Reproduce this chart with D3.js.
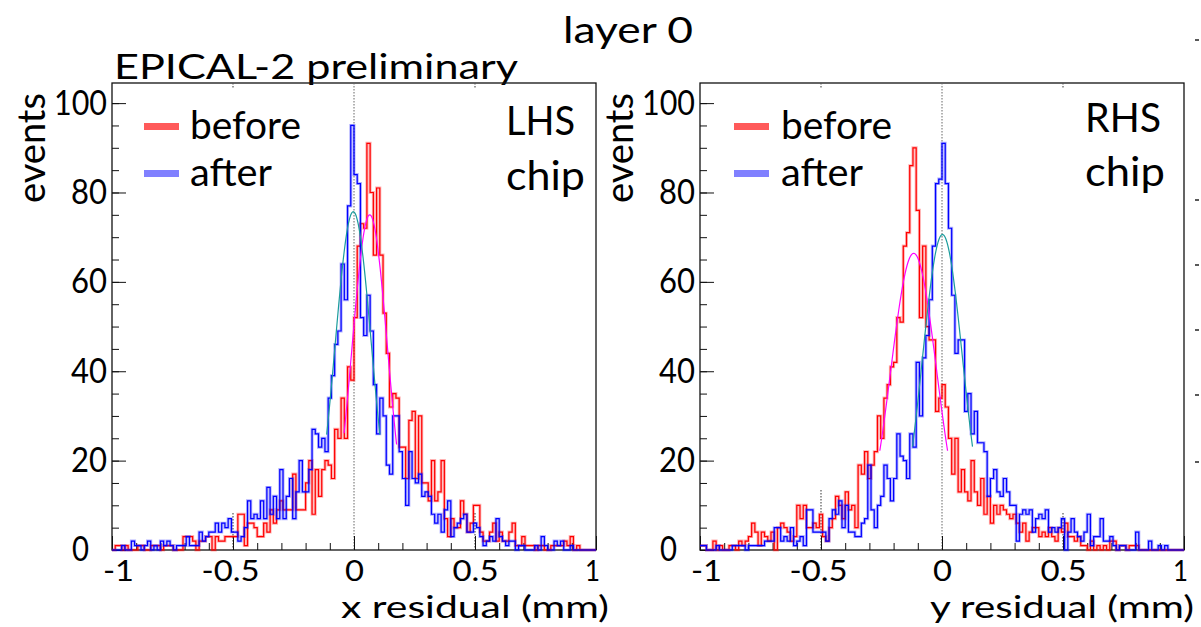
<!DOCTYPE html>
<html>
<head>
<meta charset="utf-8">
<script src="https://cdn.jsdelivr.net/npm/d3@7"></script>
<style>
  body { margin: 0; background: #fff; }
  svg text { font-family: Lato, "Open Sans", sans-serif; fill: #000; }
</style>
</head>
<body>
<svg id="chart" width="1201" height="627"></svg>
<script>
'use strict';

// residual histograms, 150 bins between -1 and 1 mm
const lhsBefore = [
  0, 1, 1, 0, 1, 0, 0, 0, 1, 1,
  0, 0, 1, 1, 1, 0, 1, 1, 1, 0,
  0, 0, 3, 3, 3, 2, 0, 2, 2, 3,
  3, 0, 3, 2, 2, 3, 3, 3, 3, 8,
  8, 1, 6, 6, 5, 3, 3, 6, 4, 9,
  6, 9, 11, 9, 9, 9, 17, 9, 9, 9,
  15, 20, 8, 18, 12, 18, 20, 19, 16, 27,
  25, 34, 25, 41, 38, 52, 68, 73, 72, 91,
  80, 66, 81, 66, 53, 44, 32, 35, 34, 23,
  23, 16, 29, 31, 16, 30, 15, 15, 11, 20,
  11, 13, 20, 7, 3, 7, 5, 5, 11, 8,
  4, 6, 10, 10, 4, 2, 2, 4, 6, 2,
  4, 2, 2, 4, 6, 1, 1, 3, 1, 1,
  1, 0, 1, 1, 0, 0, 1, 1, 1, 1,
  2, 1, 3, 0, 1, 0, 0, 0, 0, 0
];
const lhsAfter = [
  0, 0, 0, 1, 0, 0, 2, 1, 1, 0,
  1, 2, 0, 1, 0, 2, 1, 2, 1, 0,
  1, 1, 1, 3, 1, 1, 1, 4, 2, 3,
  4, 4, 6, 4, 6, 5, 7, 4, 4, 2,
  3, 5, 11, 7, 8, 7, 11, 7, 14, 8,
  12, 7, 18, 7, 12, 16, 7, 13, 20, 13,
  13, 18, 27, 26, 23, 25, 22, 34, 39, 46,
  49, 64, 56, 77, 95, 84, 82, 52, 48, 57,
  49, 37, 26, 34, 30, 19, 17, 30, 30, 22,
  16, 10, 22, 16, 15, 17, 12, 13, 12, 8,
  6, 8, 4, 9, 11, 3, 5, 6, 7, 8,
  4, 4, 6, 5, 3, 1, 2, 3, 2, 7,
  3, 2, 1, 2, 2, 0, 1, 1, 0, 0,
  0, 1, 0, 3, 1, 0, 0, 2, 1, 2,
  0, 0, 1, 0, 0, 0, 0, 0, 0, 0
];
const rhsBefore = [
  1, 1, 0, 0, 2, 0, 1, 0, 0, 1,
  1, 0, 2, 1, 2, 3, 6, 4, 1, 4,
  3, 2, 4, 0, 5, 6, 5, 4, 2, 3,
  10, 7, 10, 5, 5, 6, 5, 8, 3, 2,
  5, 7, 12, 10, 7, 13, 9, 10, 5, 19,
  17, 22, 16, 19, 22, 30, 25, 34, 37, 41,
  42, 52, 51, 68, 71, 86, 90, 76, 52, 68,
  50, 47, 47, 31, 34, 37, 32, 25, 17, 25,
  13, 18, 13, 11, 20, 13, 10, 16, 8, 12,
  6, 10, 8, 10, 9, 8, 7, 8, 6, 4,
  6, 2, 4, 5, 5, 3, 4, 3, 5, 3,
  2, 5, 4, 6, 3, 3, 2, 3, 1, 1,
  0, 2, 0, 1, 0, 1, 0, 2, 2, 0,
  1, 1, 0, 1, 1, 1, 0, 0, 0, 0,
  0, 0, 0, 0, 0, 0, 0, 0, 0, 0
];
const rhsAfter = [
  1, 1, 0, 0, 0, 1, 0, 0, 0, 0,
  1, 1, 1, 1, 0, 1, 1, 1, 1, 1,
  2, 2, 2, 5, 5, 2, 3, 2, 5, 1,
  2, 3, 1, 9, 9, 4, 4, 4, 4, 2,
  7, 9, 8, 11, 5, 10, 4, 4, 3, 3,
  6, 7, 19, 9, 5, 10, 12, 19, 16, 11,
  16, 26, 21, 20, 16, 26, 23, 42, 30, 43,
  48, 56, 68, 82, 83, 91, 82, 72, 57, 44,
  47, 47, 31, 35, 26, 31, 24, 24, 22, 12,
  16, 18, 13, 12, 16, 13, 10, 10, 2, 8,
  9, 8, 9, 4, 7, 8, 7, 9, 4, 5,
  4, 5, 7, 0, 4, 7, 4, 3, 2, 4,
  8, 1, 3, 3, 7, 2, 2, 3, 1, 0,
  1, 1, 0, 0, 0, 4, 0, 0, 0, 2,
  0, 0, 1, 0, 1, 0, 0, 0, 0, 0
];

// gaussian fits: [amplitude, mean, sigma, fit from, fit to]
const lhsFitBefore = [75, 0.065, 0.073, -0.041, 0.176];
const lhsFitAfter = [75.7, -0.003, 0.075, -0.113, 0.107];
const rhsFitBefore = [66.4, -0.117, 0.0946, -0.257, 0.023];
const rhsFitAfter = [70.6, 0.002, 0.083, -0.122, 0.126];

const xMajorTicks = [-1, -0.5, 0, 0.5, 1];
const xMinorTicks = d3.range(-10, 11).map(function (k) { return k / 10; });
const yMajorTicks = [0, 20, 40, 60, 80, 100];
const yMinorTicks = d3.range(0, 101, 5);
const legendLabels = ["before", "after"];
const edgeMarks = [40, 200, 265, 330, 395, 462];

const PANEL_W = 484;
const TOP = 83;
const BOTTOM = 550;
const Y_MAX = 104.5;
const RED = "#ff0000";
const BLUE = "#0000ff";
const FONT = "Lato, 'Open Sans', sans-serif";

// measured label widths, used to match the stretched lettering
const xLabelWidth = { "-1": 31, "-0.5": 58, "0": 19, "0.5": 46, "1": 15 };
const xLabelShift = { "-1": 6, "-0.5": -3, "0": 0, "0.5": 0, "1": -4 };
const yLabelWidth = { "0": 17, "20": 36, "40": 36, "60": 36, "80": 36, "100": 53 };
const yLabelShift = { "0": -18, "20": 0, "40": 0, "60": 0, "80": 0, "100": 0 };

const panels = [
  {
    left: 112, before: lhsBefore, after: lhsAfter,
    fitBefore: lhsFitBefore, fitAfter: lhsFitAfter,
    chip: ["LHS", "chip"], chipX: 506, chipY: [135, 190], chipW: [69, 79],
    title: "x residual (mm)", titleX: 341, titleW: 268,
    eventsX: 45, legendX: 144, legendTextX: 190, pm5: [37, 37]
  },
  {
    left: 700, before: rhsBefore, after: rhsAfter,
    fitBefore: rhsFitBefore, fitAfter: rhsFitAfter,
    chip: ["RHS", "chip"], chipX: 1085, chipY: [132, 186], chipW: [76, 80],
    title: "y residual (mm)", titleX: 930, titleW: 264,
    eventsX: 633, legendX: 734, legendTextX: 781, pm5: [60, 37]
  }
];

var svg = d3.select("#chart");

svg.append("text")
    .attr("x", 563)
    .attr("y", 43)
    .attr("font-size", 37)
    .attr("textLength", 130)
    .attr("lengthAdjust", "spacingAndGlyphs")
    .text("layer 0");

svg.append("text")
    .attr("x", 114)
    .attr("y", 79)
    .attr("font-size", 35)
    .attr("textLength", 404)
    .attr("lengthAdjust", "spacingAndGlyphs")
    .text("EPICAL-2 preliminary");

panels.forEach(drawPanel);

// bits of the next panel peeking in at the right edge
svg.selectAll(".edge-mark")
    .data(edgeMarks)
    .enter()
    .append("line")
    .attr("class", "edge-mark")
    .attr("x1", 1195).attr("x2", 1199)
    .attr("y1", function (d) { return d; })
    .attr("y2", function (d) { return d; })
    .attr("stroke", "#222")
    .attr("stroke-width", 1.5);

function drawPanel(p) {
    var x = d3.scaleLinear().domain([-1, 1]).range([p.left, p.left + PANEL_W]);
    var y = d3.scaleLinear().domain([0, Y_MAX]).range([BOTTOM, TOP]);
    var g = svg.append("g");

    // frame
    g.append("rect")
        .attr("x", x(-1)).attr("y", y(Y_MAX))
        .attr("width", x(1) - x(-1)).attr("height", y(0) - y(Y_MAX))
        .attr("fill", "none")
        .attr("stroke", "#111")
        .attr("stroke-width", 1.3);

    // dotted guides
    g.append("line")
        .attr("x1", x(0)).attr("x2", x(0))
        .attr("y1", y(Y_MAX)).attr("y2", y(0))
        .attr("stroke", "#666").attr("stroke-width", 1)
        .attr("stroke-dasharray", "1.5,1.5");
    [-0.5, 0.5].forEach(function (v, k) {
        g.append("line")
            .attr("x1", x(v)).attr("x2", x(v))
            .attr("y1", y(0) - p.pm5[k]).attr("y2", y(0))
            .attr("stroke", "#555").attr("stroke-width", 1.2)
            .attr("stroke-dasharray", "1.5,1.5");
        g.append("line")
            .attr("x1", x(v)).attr("x2", x(v))
            .attr("y1", y(Y_MAX)).attr("y2", y(Y_MAX) + 5)
            .attr("stroke", "#555").attr("stroke-width", 1.2)
            .attr("stroke-dasharray", "1.5,1.5");
    });

    // y axis, ticks pointing inwards
    var yMinor = g.append("g")
        .attr("transform", "translate(" + x(-1) + ",0)")
        .call(d3.axisLeft(y).tickValues(yMinorTicks).tickSize(-7).tickFormat(""));
    yMinor.select(".domain").remove();
    var yMajor = g.append("g")
        .attr("transform", "translate(" + x(-1) + ",0)")
        .call(d3.axisLeft(y).tickValues(yMajorTicks).tickSize(-14).tickPadding(5));
    yMajor.select(".domain").remove();
    yMajor.selectAll("text")
        .attr("font-size", 34)
        .attr("font-family", FONT)
        .attr("dx", function (d) { return yLabelShift[String(d)]; })
        .attr("textLength", function (d) { return yLabelWidth[String(d)]; })
        .attr("lengthAdjust", "spacingAndGlyphs");

    // x axis
    var xMinor = g.append("g")
        .attr("transform", "translate(0," + y(0) + ")")
        .call(d3.axisBottom(x).tickValues(xMinorTicks).tickSize(-7).tickFormat(""));
    xMinor.select(".domain").remove();
    var xMajor = g.append("g")
        .attr("transform", "translate(0," + y(0) + ")")
        .call(d3.axisBottom(x).tickValues(xMajorTicks).tickSize(-14).tickPadding(10)
            .tickFormat(function (d) { return String(d); }));
    xMajor.select(".domain").remove();
    xMajor.selectAll("text")
        .attr("font-size", 29)
        .attr("font-family", FONT)
        .attr("dx", function (d) { return xLabelShift[String(d)]; })
        .attr("textLength", function (d) { return xLabelWidth[String(d)]; })
        .attr("lengthAdjust", "spacingAndGlyphs");
    g.selectAll(".tick line").attr("stroke", "#111");

    // histograms
    var w = 2 / p.before.length;
    var step = d3.line()
        .x(function (d) { return x(d[0]); })
        .y(function (d) { return y(d[1]); })
        .curve(d3.curveStepAfter);
    function edges(vals) {
        var pts = vals.map(function (v, i) { return [-1 + i * w, v]; });
        pts.push([1, vals[vals.length - 1]]);
        return pts;
    }
    [[p.before, RED], [p.after, BLUE]].forEach(function (h) {
        g.append("path")
            .attr("d", step(edges(h[0])))
            .attr("fill", "none")
            .attr("stroke", h[1])
            .attr("stroke-opacity", 0.3)
            .attr("stroke-width", 3);
        g.append("path")
            .attr("d", step(edges(h[0])))
            .attr("fill", "none")
            .attr("stroke", h[1])
            .attr("stroke-width", 1.2);
    });

    // gaussian fits
    var curve = d3.line()
        .x(function (d) { return x(d[0]); })
        .y(function (d) { return y(d[1]); });
    [[p.fitBefore, "#ff00ff"], [p.fitAfter, "#1a9c9c"]].forEach(function (f) {
        var par = f[0];
        var pts = d3.range(0, 81).map(function (k) {
            var xv = par[3] + (par[4] - par[3]) * k / 80;
            var z = (xv - par[1]) / par[2];
            return [xv, par[0] * Math.exp(-0.5 * z * z)];
        });
        g.append("path")
            .attr("d", curve(pts))
            .attr("fill", "none")
            .attr("stroke", f[1])
            .attr("stroke-width", 1.2);
    });

    // legend
    [["#ff5a5a", 126.5, 139], ["#8080ff", 173.5, 186]].forEach(function (l, k) {
        g.append("line")
            .attr("x1", p.legendX).attr("x2", p.legendX + 35)
            .attr("y1", l[1]).attr("y2", l[1])
            .attr("stroke", l[0]).attr("stroke-width", 7);
        g.append("text")
            .attr("x", p.legendTextX)
            .attr("y", l[2])
            .attr("font-size", 39)
            .attr("textLength", k === 0 ? 111 : 82)
            .attr("lengthAdjust", "spacingAndGlyphs")
            .text(legendLabels[k]);
    });

    // chip label
    p.chip.forEach(function (t, k) {
        g.append("text")
            .attr("x", p.chipX)
            .attr("y", p.chipY[k])
            .attr("font-size", 40)
            .attr("textLength", p.chipW[k])
            .attr("lengthAdjust", "spacingAndGlyphs")
            .text(t);
    });

    // axis titles
    g.append("text")
        .attr("transform", "translate(" + p.eventsX + ",203) rotate(-90)")
        .attr("font-size", 38)
        .attr("textLength", 110)
        .attr("lengthAdjust", "spacingAndGlyphs")
        .text("events");
    g.append("text")
        .attr("x", p.titleX)
        .attr("y", 618)
        .attr("font-size", 31)
        .attr("textLength", p.titleW)
        .attr("lengthAdjust", "spacingAndGlyphs")
        .text(p.title);
}
</script>
</body>
</html>
